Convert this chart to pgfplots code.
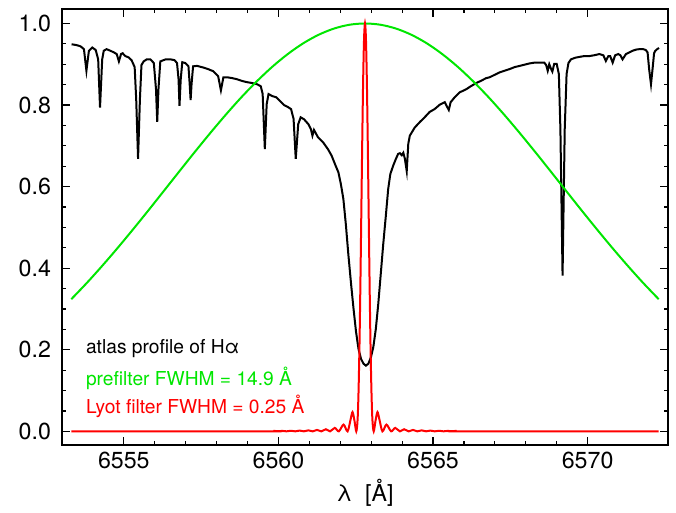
\documentclass[border=0pt]{standalone}
\usepackage{fontspec}
\setmainfont{TeX Gyre Heros}
\usepackage{pgfplots}
\pgfplotsset{compat=1.18}
\definecolor{lgreen}{RGB}{0,230,0}
\definecolor{lred}{RGB}{255,0,0}
\begin{document}
\begin{tikzpicture}
\begin{axis}[
  scale only axis, width=303pt, height=218pt,
  xmin=6553.0, xmax=6572.6, ymin=-0.034, ymax=1.035,
  xtick={6555,6560,6565,6570}, minor x tick num=4,
  ytick={0,0.2,0.4,0.6,0.8,1.0}, minor y tick num=3,
  /pgf/number format/assume math mode=true,
  yticklabel style={/pgf/number format/.cd, fixed, fixed zerofill, precision=1, /tikz/.cd, xshift=-2pt},
  xticklabel style={/pgf/number format/1000 sep={}},
  tick label style={font=\fontsize{11.6}{13}\selectfont},
  xlabel={λ\ \ [Å]},
  xlabel style={yshift=2pt},
  label style={font=\fontsize{11.6}{13}\selectfont},
  major tick length=4pt, minor tick length=2pt,
  tick style={black, line width=0.6pt},
  axis line style={line width=0.75pt},
]
\addplot[black, line width=1pt] coordinates {
(6553.31,0.949)(6553.47,0.947)(6553.60,0.944)(6553.71,0.937)(6553.79,0.884)(6553.87,0.933)(6553.98,0.941)(6554.09,0.935)
(6554.17,0.912)(6554.23,0.794)(6554.30,0.912)(6554.35,0.933)(6554.44,0.937)(6554.57,0.933)(6554.68,0.929)(6554.77,0.925)
(6554.84,0.907)(6554.91,0.925)(6554.96,0.927)(6555.05,0.920)(6555.15,0.917)(6555.25,0.910)(6555.35,0.893)(6555.40,0.814)
(6555.46,0.668)(6555.52,0.814)(6555.57,0.898)(6555.64,0.907)(6555.74,0.912)(6555.86,0.912)(6555.97,0.903)(6556.04,0.839)
(6556.08,0.759)(6556.12,0.839)(6556.18,0.907)(6556.35,0.912)(6556.51,0.912)(6556.64,0.910)(6556.72,0.903)(6556.77,0.863)
(6556.80,0.798)(6556.84,0.863)(6556.89,0.905)(6556.99,0.903)(6557.09,0.895)(6557.13,0.851)(6557.16,0.812)(6557.19,0.851)
(6557.24,0.895)(6557.37,0.896)(6557.57,0.892)(6557.73,0.888)(6557.89,0.883)(6558.05,0.871)(6558.14,0.836)(6558.22,0.868)
(6558.35,0.868)(6558.51,0.866)(6558.67,0.863)(6558.83,0.859)(6558.99,0.856)(6559.15,0.854)(6559.31,0.851)(6559.43,0.846)
(6559.49,0.827)(6559.56,0.692)(6559.62,0.802)(6559.68,0.827)(6559.80,0.822)(6559.93,0.819)(6560.05,0.810)(6560.18,0.800)
(6560.31,0.795)(6560.41,0.790)(6560.49,0.766)(6560.56,0.668)(6560.64,0.753)(6560.72,0.770)(6560.83,0.765)(6560.97,0.753)
(6561.05,0.741)(6561.10,0.725)(6561.15,0.739)(6561.28,0.721)(6561.45,0.708)(6561.60,0.692)(6561.72,0.676)(6561.83,0.655)
(6561.94,0.635)(6562.02,0.606)(6562.10,0.570)(6562.18,0.508)(6562.26,0.435)(6562.35,0.361)(6562.43,0.300)(6562.51,0.244)
(6562.59,0.202)(6562.67,0.178)(6562.75,0.166)(6562.83,0.161)(6562.91,0.166)(6562.99,0.181)(6563.07,0.207)(6563.15,0.251)
(6563.23,0.313)(6563.31,0.386)(6563.39,0.459)(6563.47,0.525)(6563.55,0.594)(6563.62,0.631)(6563.71,0.651)(6563.80,0.668)
(6563.87,0.680)(6563.93,0.682)(6563.99,0.677)(6564.04,0.683)(6564.09,0.668)(6564.15,0.638)(6564.20,0.705)(6564.25,0.725)
(6564.41,0.745)(6564.57,0.758)(6564.73,0.770)(6564.89,0.783)(6565.05,0.790)(6565.22,0.801)(6565.38,0.807)(6565.46,0.795)
(6565.51,0.788)(6565.57,0.807)(6565.70,0.819)(6565.86,0.831)(6566.08,0.839)(6566.22,0.846)(6566.40,0.854)(6566.54,0.859)
(6566.72,0.866)(6566.83,0.868)(6566.99,0.874)(6567.15,0.880)(6567.31,0.884)(6567.47,0.888)(6567.64,0.893)(6567.80,0.896)
(6567.96,0.899)(6568.12,0.902)(6568.28,0.904)(6568.44,0.904)(6568.60,0.904)(6568.66,0.898)(6568.71,0.884)(6568.76,0.900)
(6568.81,0.890)(6568.86,0.882)(6568.92,0.901)(6569.00,0.901)(6569.07,0.876)(6569.12,0.741)(6569.19,0.382)(6569.26,0.741)
(6569.32,0.876)(6569.38,0.903)(6569.46,0.912)(6569.60,0.916)(6569.73,0.918)(6569.89,0.920)(6570.05,0.920)(6570.21,0.922)
(6570.38,0.925)(6570.51,0.922)(6570.59,0.908)(6570.67,0.920)(6570.73,0.920)(6570.81,0.904)(6570.89,0.922)(6570.99,0.925)
(6571.06,0.922)(6571.13,0.912)(6571.24,0.925)(6571.35,0.929)(6571.45,0.933)(6571.57,0.936)(6571.67,0.937)(6571.80,0.937)
(6571.88,0.935)(6571.94,0.929)(6571.99,0.888)(6572.05,0.851)(6572.10,0.888)(6572.15,0.927)(6572.19,0.933)(6572.25,0.937)
(6572.31,0.940)
};
\addplot[lgreen, line width=1pt, smooth] coordinates {
(6553.3,0.3240)(6553.8,0.3636)(6554.3,0.4057)(6554.8,0.4497)(6555.3,0.4954)(6555.8,0.5423)(6556.3,0.5900)(6556.8,0.6379)
(6557.3,0.6854)(6557.8,0.7318)(6558.3,0.7765)(6558.8,0.8189)(6559.3,0.8581)(6559.8,0.8937)(6560.3,0.9249)(6560.8,0.9513)
(6561.3,0.9723)(6561.8,0.9876)(6562.3,0.9969)(6562.8,1.0000)(6563.3,0.9969)(6563.8,0.9876)(6564.3,0.9723)(6564.8,0.9513)
(6565.3,0.9249)(6565.8,0.8937)(6566.3,0.8581)(6566.8,0.8189)(6567.3,0.7765)(6567.8,0.7318)(6568.3,0.6854)(6568.8,0.6379)
(6569.3,0.5900)(6569.8,0.5423)(6570.3,0.4954)(6570.8,0.4497)(6571.3,0.4057)(6571.8,0.3636)(6572.3,0.3240)
};
\addplot[lred, line width=1pt, smooth] coordinates {
(6553.3,0)(6559.698,0)(6559.839,0.0009)(6559.98,0)(6560.121,0.0011)(6560.262,0)(6560.403,0.0014)(6560.544,0)
(6560.685,0.0018)(6560.826,0)(6560.967,0.0024)(6561.108,0)(6561.249,0.0034)(6561.39,0)(6561.537,0.0051)(6561.672,0)
(6561.822,0.0084)(6561.954,0)(6562.107,0.0165)(6562.236,0)(6562.337,0.030)(6562.397,0.0472)(6562.458,0.0267)(6562.518,0)
(6562.56,0.0283)(6562.59,0.0942)(6562.62,0.2045)(6562.65,0.3545)(6562.68,0.5295)(6562.71,0.7068)(6562.74,0.8599)(6562.77,0.9633)
(6562.8,1)
(6562.83,0.9633)(6562.86,0.8599)(6562.89,0.7068)(6562.92,0.5295)(6562.95,0.3545)(6562.98,0.2045)(6563.01,0.0942)(6563.04,0.0283)
(6563.082,0)(6563.142,0.0267)(6563.203,0.0472)(6563.264,0.030)(6563.364,0)(6563.493,0.0165)(6563.646,0)(6563.778,0.0084)
(6563.928,0)(6564.063,0.0051)(6564.21,0)(6564.351,0.0034)(6564.492,0)(6564.633,0.0024)(6564.774,0)(6564.915,0.0018)
(6565.056,0)(6565.197,0.0014)(6565.338,0)(6565.479,0.0011)(6565.62,0)(6565.761,0.0009)(6565.902,0)(6572.3,0)
};
\node[anchor=west, font=\fontsize{9.6}{11}\selectfont, text=black] at (axis cs:6553.55,0.202) {atlas profile of Hα};
\node[anchor=west, font=\fontsize{9.6}{11}\selectfont, text=lgreen] at (axis cs:6553.55,0.131) {prefilter FWHM = 14.9 Å};
\node[anchor=west, font=\fontsize{9.6}{11}\selectfont, text=lred] at (axis cs:6553.55,0.061) {Lyot filter FWHM = 0.25 Å};
\end{axis}
\path ([xshift=-31pt,yshift=-29.7pt]current axis.south west) rectangle ([xshift=4pt,yshift=4.6pt]current axis.north east);
\end{tikzpicture}
\end{document}
